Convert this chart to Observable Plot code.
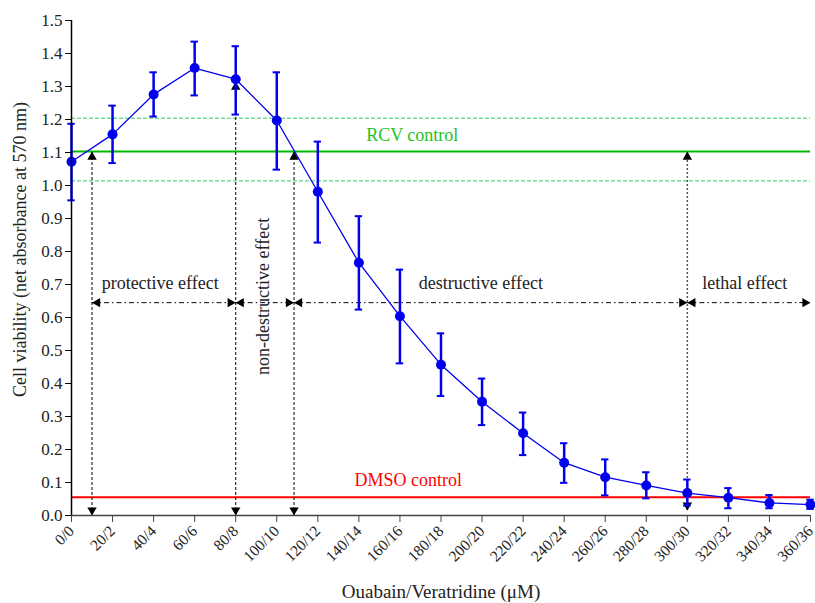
<!DOCTYPE html>
<html><head><meta charset="utf-8">
<script src="https://cdn.jsdelivr.net/npm/d3@7"></script>
<script src="https://cdn.jsdelivr.net/npm/@observablehq/plot@0.6"></script>
<style>body{margin:0;background:#fff}</style>
</head><body><div id="chart"></div>
<script>
const doseLabels = ["0/0","20/2","40/4","60/6","80/8","100/10","120/12","140/14","160/16","180/18","200/20","220/22","240/24","260/26","280/28","300/30","320/32","340/34","360/36"];
const viability = [1.072,1.155,1.276,1.356,1.322,1.197,0.981,0.766,0.604,0.457,0.345,0.249,0.160,0.116,0.091,0.068,0.054,0.038,0.033];
const errUpper  = [1.187,1.242,1.343,1.436,1.422,1.343,1.133,0.907,0.745,0.552,0.415,0.312,0.219,0.170,0.131,0.109,0.083,0.062,0.048];
const errLower  = [0.955,1.068,1.209,1.273,1.215,1.048,0.827,0.624,0.461,0.362,0.274,0.183,0.099,0.061,0.052,0.030,0.022,0.022,0.020];
const rcvControl = 1.103, rcvUpper = 1.204, rcvLower = 1.014;
const dmsoControl = 0.055;
const markerX = [0.5, 4, 5.42, 15];
const markerTop = [1.103, 1.315, 1.103, 1.103];
const markerBottom = [0, 0, 0, 0.015];
const markerDotted = [false, false, false, true];
const effectBounds = [0.5, 4, 5.42, 15, 18];
const effectLevel = 0.645;
const effectNames = ["protective effect","non-destructive effect","destructive effect","lethal effect"];
const effectLabelX = [2.16, 4.66, 9.97, 16.4];
const effectLabelY = [0.703, 0.664, 0.703, 0.703];
const effectLabelRotate = [0, -90, 0, 0];
const controlNames = ["RCV control","DMSO control"];
const controlLabelX = [8.3, 8.2];
const controlLabelY = [1.153, 0.106];
const yTicks = [0,0.1,0.2,0.3,0.4,0.5,0.6,0.7,0.8,0.9,1.0,1.1,1.2,1.3,1.4,1.5];
const yTitle = "Cell viability (net absorbance at 570 nm)";
const yTitleAt = 0.806;
const xTitle = "Ouabain/Veratridine (μM)";

const pts = doseLabels.map((d,i)=>({i, d, v: viability[i], hi: errUpper[i], lo: errLower[i]}));
const markers = markerX.map((x,k)=>({x, top: markerTop[k], bottom: markerBottom[k], dotted: markerDotted[k]}));
const segs = effectBounds.slice(0,-1).map((a,k)=>({x1:a, x2:effectBounds[k+1]}));
const effLabels = effectNames.map((t,k)=>({t, x: effectLabelX[k], y: effectLabelY[k], r: effectLabelRotate[k]}));
const ctlLabels = controlNames.map((t,k)=>({t, x: controlLabelX[k], y: controlLabelY[k], c: k===0 ? "#22c322" : "#ff0000"}));

const blue = "#0000ee";
const tri = 3.5, off = 5.4;
const font = "Liberation Serif, Times New Roman, serif";

const chart = Plot.plot({
  width: 815, height: 603,
  marginLeft: 71, marginRight: 5, marginTop: 20, marginBottom: 88,
  style: {fontFamily: font, background: "#fff"},
  x: {domain: [0, 18]},
  y: {domain: [0, 1.5]},
  marks: [
    Plot.ruleY([rcvUpper, rcvLower], {stroke: "#33cc66", strokeWidth: 1, strokeDasharray: "4,2"}),
    Plot.ruleY([rcvControl], {stroke: "#00bb00", strokeWidth: 2}),
    Plot.ruleY([dmsoControl], {stroke: "#ff0000", strokeWidth: 2}),
    // vertical marker lines
    Plot.ruleX(markers.filter(m=>!m.dotted), {x: "x", y1: "bottom", y2: "top", stroke: "#000", strokeWidth: 1, strokeDasharray: "3,2"}),
    Plot.ruleX(markers.filter(m=>m.dotted), {x: "x", y1: "bottom", y2: "top", stroke: "#555", strokeWidth: 1.5, strokeDasharray: "2,2"}),
    Plot.dot(markers, {x: "x", y: "top", symbol: "triangle", r: tri, fill: "#000", dy: off}),
    Plot.dot(markers, {x: "x", y: "bottom", symbol: "triangle", r: tri, fill: "#000", rotate: 180, dy: -off}),
    // effect ranges
    Plot.ruleY(segs, {y: effectLevel, x1: "x1", x2: "x2", stroke: "#000", strokeWidth: 1, strokeDasharray: "5,3,1.5,3"}),
    Plot.dot(segs, {x: "x1", y: effectLevel, symbol: "triangle", r: tri, fill: "#000", rotate: -90, dx: off}),
    Plot.dot(segs, {x: "x2", y: effectLevel, symbol: "triangle", r: tri, fill: "#000", rotate: 90, dx: -off}),
    // data
    Plot.line(pts, {x: "i", y: "v", stroke: blue, strokeWidth: 1.3}),
    Plot.ruleX(pts, {x: "i", y1: "lo", y2: "hi", stroke: blue, strokeWidth: 2.5}),
    Plot.ruleY(pts, {y: "hi", x1: d=>d.i-0.09, x2: d=>d.i+0.09, stroke: blue, strokeWidth: 2}),
    Plot.ruleY(pts, {y: "lo", x1: d=>d.i-0.09, x2: d=>d.i+0.09, stroke: blue, strokeWidth: 2}),
    Plot.dot(pts, {x: "i", y: "v", r: 5, fill: blue}),
    // labels
    Plot.text(effLabels, {x: "x", y: "y", text: "t", rotate: "r", fontSize: 18, fill: "#222", fontFamily: font}),
    Plot.text(ctlLabels, {x: "x", y: "y", text: "t", fill: "c", fontSize: 18, fontFamily: font}),
    // axes
    Plot.ruleY([0], {stroke: "#444", strokeWidth: 1.5}),
    Plot.ruleX([0], {stroke: "#000", strokeWidth: 1.5}),
    Plot.axisY({ticks: yTicks, tickFormat: d3.format(".1f"), tickSize: 6, tickPadding: 3, fontSize: 17, stroke: "#000", fill: "#222", label: null}),
    Plot.text([yTitle], {frameAnchor: "left", y: [yTitleAt], text: d=>d, rotate: -90, textAnchor: "middle", dx: -51, fontSize: 18, fill: "#222", fontFamily: font}),
    Plot.axisX({ticks: d3.range(0, 19), tickFormat: i => doseLabels[i], tickSize: 7, tickPadding: 6, tickRotate: -45, fontSize: 15.5, stroke: "#444", fill: "#222",
      label: xTitle, labelAnchor: "center", labelArrow: "none", labelOffset: 82})
  ]
});
chart.querySelectorAll("[aria-label='x-axis label'] text").forEach(t=>{t.setAttribute("font-size", 19); t.setAttribute("fill", "#222");});
document.getElementById("chart").append(chart);
</script>
</body></html>
